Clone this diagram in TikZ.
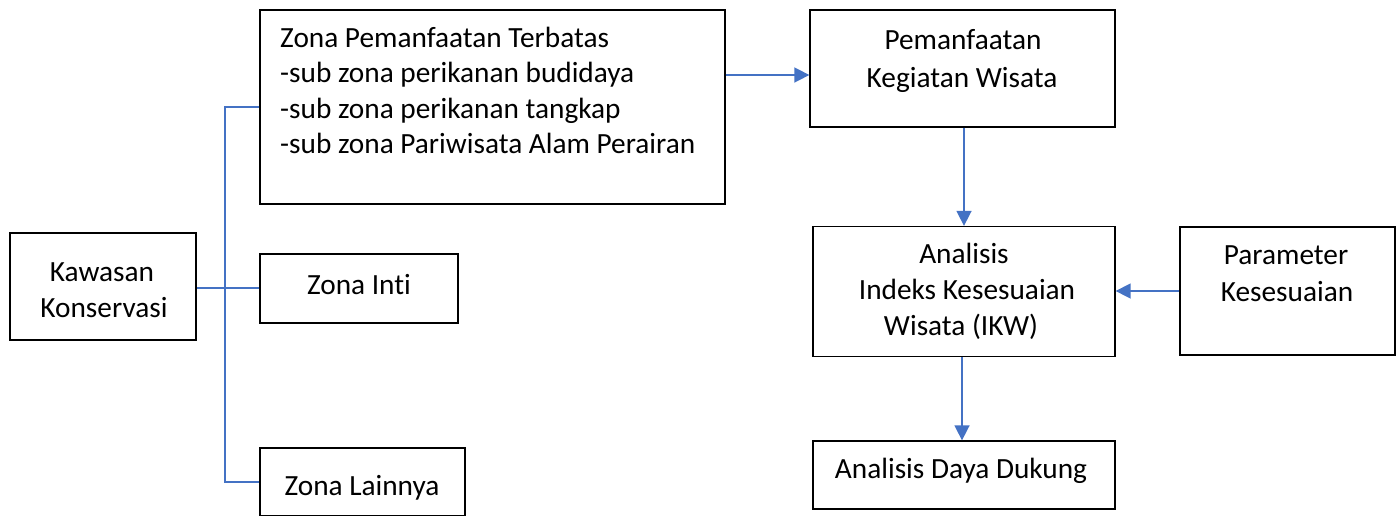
\documentclass[tikz,border=0pt]{standalone}
\usepackage{fontspec}
\setmainfont{Carlito}[Ligatures={NoCommon}]
\usetikzlibrary{arrows.meta}
\definecolor{linkblue}{HTML}{4472C4}
\tikzset{
  box/.style={draw=black, line width=1.3pt, rectangle, inner sep=0pt, fill=white},
  txt/.style={anchor=base, inner sep=0pt, font=\fontsize{29.3}{36}\selectfont},
  ltxt/.style={anchor=base west, inner sep=0pt, font=\fontsize{29.3}{36}\selectfont},
  conn/.style={draw=linkblue, line width=1.6pt},
  arr/.style={conn, -{Triangle[length=15pt,width=15pt]}}
}
\begin{document}
\begin{tikzpicture}[x=1pt,y=-1pt]
\clip (0,0) rectangle (1398,515);
\useasboundingbox (0,0) rectangle (1398,515);
% boxes
\node[box, minimum width=186pt, minimum height=107pt] (kk) at (103,286.5) {};
\node[box, minimum width=465pt, minimum height=194pt] (zpt) at (492.5,107) {};
\node[box, minimum width=198pt, minimum height=69pt] (zi) at (359,288.5) {};
\node[box, minimum width=205pt, minimum height=68pt] (zl) at (362.5,482) {};
\node[box, minimum width=305pt, minimum height=117pt] (pkw) at (962.5,68.5) {};
\node[box, minimum width=302pt, minimum height=130pt] (ikw) at (964,291.5) {};
\node[box, minimum width=215pt, minimum height=128pt] (par) at (1287.5,291) {};
\node[box, minimum width=302pt, minimum height=68pt] (add) at (964,475) {};
% texts
\node[txt] (kk1) at (102,281) {Kawasan};
\node[txt] (kk2) at (104,317) {Konservasi};
\node[ltxt] (zpt1) at (280,47) {Zona Pemanfaatan Terbatas};
\node[ltxt] (zpt2) at (280,82.5) {-sub zona perikanan budidaya};
\node[ltxt] (zpt3) at (280,118) {-sub zona perikanan tangkap};
\node[ltxt] (zpt4) at (280,153.5) {-sub zona Pariwisata Alam Perairan};
\node[txt] (zi1) at (359,294) {Zona Inti};
\node[txt] (zl1) at (362,495) {Zona Lainnya};
\node[txt] (pkw1) at (963,49) {Pemanfaatan};
\node[txt] (pkw2) at (962,87) {Kegiatan Wisata};
\node[txt] (ikw1) at (964,263) {Analisis};
\node[txt] (ikw2) at (967,299) {Indeks Kesesuaian};
\node[txt] (ikw3) at (961,335) {Wisata (IKW)};
\node[txt] (par1) at (1286,264) {Parameter};
\node[txt] (par2) at (1287,301) {Kesesuaian};
\node[txt] (add1) at (961,478) {Analisis Daya Dukung};
% connectors
\coordinate (sp) at (225,0);
\draw[conn] (zi.west |- 0,288) -- (kk.east |- 0,288);
\draw[conn] (zpt.west) -- (zpt.west -| sp) -- (zl.west -| sp) -- (zl.west);
\draw[arr] (zpt.east |- 0,75) -- (pkw.west |- 0,75);
\draw[arr] (pkw.south -| 964,0) -- (ikw.north);
\draw[arr] (par.west) -- (ikw.east |- par.west);
\draw[arr] (ikw.south -| 962,0) -- (add.north -| 962,0);
\end{tikzpicture}
\end{document}
